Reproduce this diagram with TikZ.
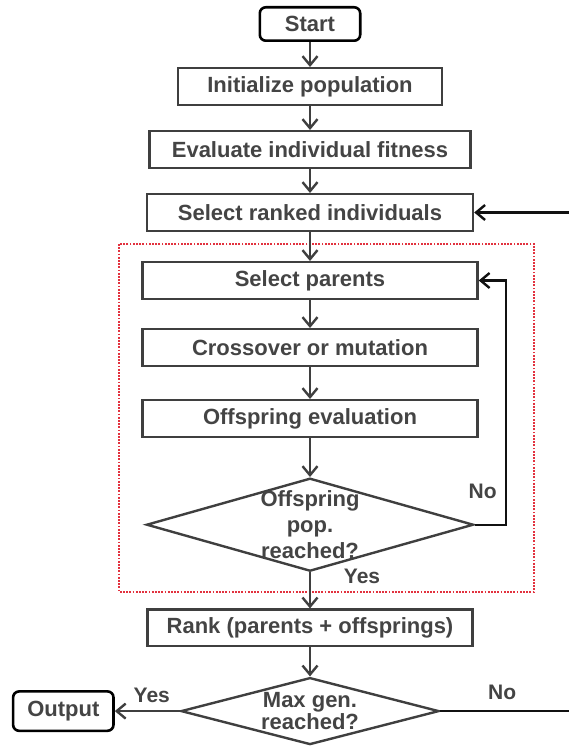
\documentclass[tikz,border=0pt]{standalone}
\usepackage{fontspec}
\setmainfont{Liberation Sans}
\usetikzlibrary{arrows.meta,shapes.geometric,positioning}
\definecolor{gaBox}{HTML}{3F3F3F}
\definecolor{gaText}{HTML}{444444}
\definecolor{gaLoop}{HTML}{111111}
\definecolor{gaRed}{HTML}{E2323F}
\tikzset{
  gastep/.style={
    draw=gaBox, line width=2.4pt, minimum height=36.6pt, inner sep=0pt,
    text=gaText, font=\fontsize{22}{26}\selectfont\bfseries
  },
  terminal/.style={gastep, draw=black, rounded corners=6pt, line width=2.6pt},
  decision/.style={diamond, draw=gaBox, line width=2.4pt, inner sep=0pt},
  dtext/.style={align=center, text=gaText, font=\fontsize{22}{#1}\selectfont\bfseries},
  flow/.style={-{Straight Barb[length=9pt,width=15pt]}, line width=2.4pt, gaBox},
  back/.style={-{Straight Barb[length=9pt,width=15pt]}, line width=2.4pt, gaLoop},
  tag/.style={text=gaText, font=\fontsize{21}{25}\selectfont\bfseries, inner sep=0pt},
  stage/.style={draw=gaRed, line width=2.6pt, dash pattern=on 1.8pt off 1.4pt}
}
\begin{document}
\begin{tikzpicture}[x=1pt, y=-1pt, node distance=24pt]
  \useasboundingbox (0,0) rectangle (569,746);
  \clip (0,0) rectangle (569,746);
  % main column
  \node[terminal, minimum width=100.4pt, minimum height=33.4pt] (start) at (310,24) {Start};
  \node[gastep, below=25pt of start, minimum width=264pt] (init) {Initialize population};
  \node[gastep, below=of init, minimum width=321pt] (eval) {Evaluate individual fitness};
  \node[gastep, below=of eval, minimum width=326pt] (selrank) {Select ranked individuals};
  \node[gastep, below=29pt of selrank, minimum width=335pt] (selpar) {Select parents};
  \node[gastep, below=28pt of selpar, minimum width=335pt] (cross) {Crossover or mutation};
  \node[gastep, below=32pt of cross, minimum width=335pt] (offeval) {Offspring evaluation};
  \node[decision, below=39pt of offeval, minimum width=327pt, minimum height=93pt,
    label={[dtext=26]center:Offspring\\pop.\\reached?}] (offpop) {};
  \node[gastep, below=36pt of offpop, minimum width=325pt] (rank) {Rank (parents + offsprings)};
  \node[decision, below=29pt of rank, minimum width=258pt, minimum height=67pt,
    label={[dtext=20]center:Max gen.\\reached?}] (maxgen) {};
  \node[terminal, left=65pt of maxgen, minimum width=100.4pt, minimum height=39.4pt] (output) {Output};

  % offspring loop
  \draw[stage] (119,244) rectangle (534,592);

  \foreach \a/\b in {start/init,init/eval,eval/selrank,selrank/selpar,selpar/cross,
    cross/offeval,offeval/offpop,offpop/rank,rank/maxgen}{\draw[flow] (\a) -- (\b);}
  \draw[back] (offpop.east) -- ++(31,0) |- (selpar.east);
  \draw[back] (maxgen.east) -- ++(160,0) |- (selrank.east);
  \draw[flow] (maxgen.west) -- (output.east);

  \node[tag] at ([xshift=8pt,yshift=33pt]offpop.east) {No};
  \node[tag] at ([xshift=52pt,yshift=-4pt]offpop.south) {Yes};
  \node[tag] at ([xshift=-28pt,yshift=16pt]maxgen.west) {Yes};
  \node[tag] at ([xshift=62pt,yshift=19pt]maxgen.east) {No};
\end{tikzpicture}
\end{document}
